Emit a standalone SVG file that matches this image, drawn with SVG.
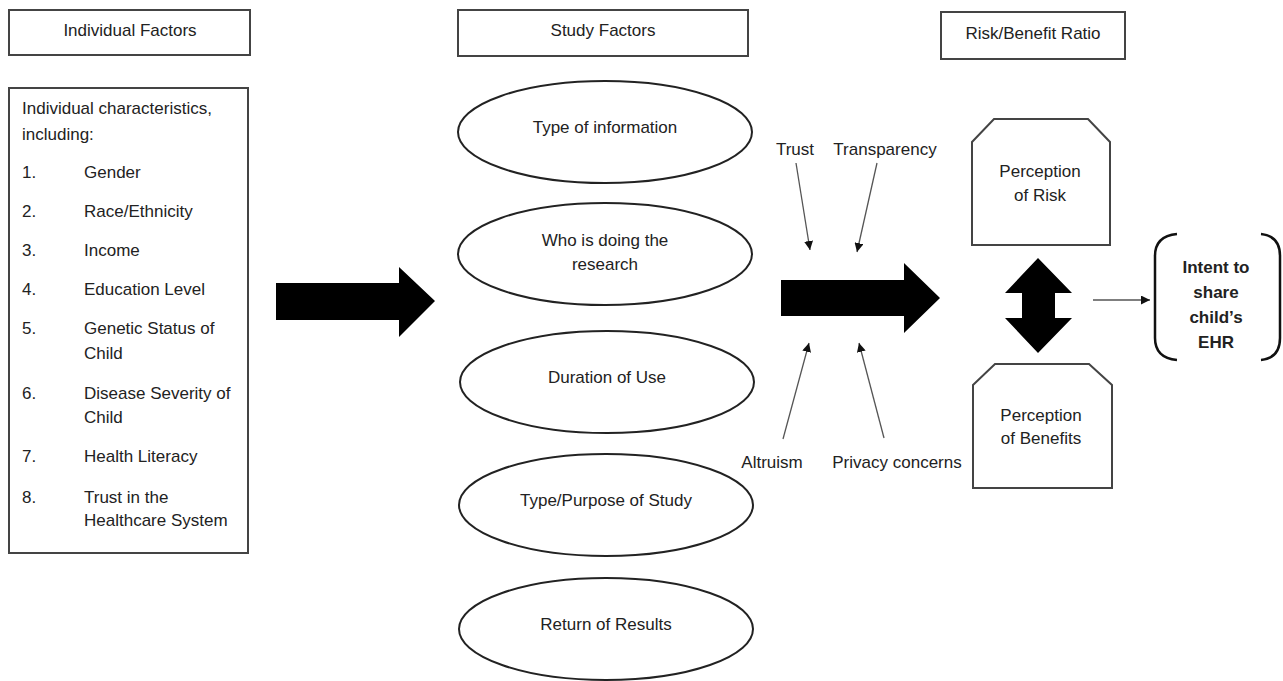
<svg xmlns="http://www.w3.org/2000/svg" width="1283" height="681" viewBox="0 0 1283 681">
<defs>
<style>
text{font-family:"Liberation Sans",Arial,sans-serif;font-size:17px;fill:#222}
.c{text-anchor:middle}
.b{font-weight:bold}
.box{fill:#fff;stroke:#444;stroke-width:2}
.ell{fill:#fff;stroke:#222;stroke-width:2}
.blk{fill:#000}
.thin{fill:none;stroke:#555;stroke-width:1.3}
.brk{fill:none;stroke:#111;stroke-width:2.5}
</style>
<marker id="ah" viewBox="0 0 10 10" refX="10" refY="5" markerWidth="9" markerHeight="9" markerUnits="userSpaceOnUse" orient="auto">
<path d="M0,0 L10,5 L0,10 z" fill="#111"/>
</marker>
</defs>
<rect width="1283" height="681" fill="#fff"/>

<g id="connectors">
<polygon class="blk" points="276,283 399,283 399,267 435,301 399,337 399,320 276,320"/>
<polygon class="blk" points="781,280 904,280 904,263 940,298 904,333 904,316 781,316"/>
<polygon class="blk" points="1038,258 1072,293 1055,293 1055,318 1072,318 1038,353 1005,318 1022,318 1022,293 1005,293"/>
<line class="thin" x1="796" y1="163" x2="810" y2="250" marker-end="url(#ah)"/>
<line class="thin" x1="877" y1="163" x2="857" y2="252" marker-end="url(#ah)"/>
<line class="thin" x1="783" y1="439" x2="809" y2="343" marker-end="url(#ah)"/>
<line class="thin" x1="884" y1="438" x2="859" y2="343" marker-end="url(#ah)"/>
<line class="thin" x1="1093" y1="300" x2="1150" y2="300" marker-end="url(#ah)"/>
</g>

<g id="individual-factors">
<rect class="box" x="9" y="10" width="241" height="45"/>
<text class="c" x="130" y="36">Individual Factors</text>
</g>

<g id="individual-characteristics">
<rect class="box" x="9" y="88" width="239" height="465"/>
<text x="22" y="114">Individual characteristics,</text>
<text x="22" y="140">including:</text>
<text x="22" y="178">1.</text><text x="84" y="178">Gender</text>
<text x="22" y="217">2.</text><text x="84" y="217">Race/Ethnicity</text>
<text x="22" y="256">3.</text><text x="84" y="256">Income</text>
<text x="22" y="295">4.</text><text x="84" y="295">Education Level</text>
<text x="22" y="334">5.</text><text x="84" y="334">Genetic Status of</text>
<text x="84" y="359">Child</text>
<text x="22" y="399">6.</text><text x="84" y="399">Disease Severity of</text>
<text x="84" y="423">Child</text>
<text x="22" y="462">7.</text><text x="84" y="462">Health Literacy</text>
<text x="22" y="503">8.</text><text x="84" y="503">Trust in the</text>
<text x="84" y="526">Healthcare System</text>
</g>

<g id="study-factors">
<rect class="box" x="458" y="10" width="290" height="46"/>
<text class="c" x="603" y="36">Study Factors</text>
</g>

<g id="type-of-information">
<ellipse class="ell" cx="605" cy="132" rx="147" ry="51"/>
<text class="c" x="605" y="133">Type of information</text>
</g>
<g id="who-is-doing">
<ellipse class="ell" cx="605" cy="254" rx="147" ry="51"/>
<text class="c" x="605" y="246">Who is doing the</text>
<text class="c" x="605" y="270">research</text>
</g>
<g id="duration-of-use">
<ellipse class="ell" cx="607" cy="382" rx="147" ry="51"/>
<text class="c" x="607" y="383">Duration of Use</text>
</g>
<g id="type-purpose">
<ellipse class="ell" cx="606" cy="505" rx="147" ry="51"/>
<text class="c" x="606" y="506">Type/Purpose of Study</text>
</g>
<g id="return-of-results">
<ellipse class="ell" cx="606" cy="629" rx="147" ry="51"/>
<text class="c" x="606" y="630">Return of Results</text>
</g>

<g id="trust"><text class="c" x="795" y="155">Trust</text></g>
<g id="transparency"><text class="c" x="885" y="155">Transparency</text></g>
<g id="altruism"><text class="c" x="772" y="468">Altruism</text></g>
<g id="privacy"><text class="c" x="897" y="468">Privacy concerns</text></g>

<g id="risk-benefit-ratio">
<rect class="box" x="941" y="12" width="184" height="47"/>
<text class="c" x="1033" y="39">Risk/Benefit Ratio</text>
</g>

<g id="perception-of-risk">
<polygon class="box" points="972,142 994,119 1088,119 1110,142 1110,245 972,245"/>
<text class="c" x="1040" y="177">Perception</text>
<text class="c" x="1040" y="201">of Risk</text>
</g>

<g id="perception-of-benefits">
<polygon class="box" points="973,385 995,364 1089,364 1112,385 1112,488 973,488"/>
<text class="c" x="1041" y="421">Perception</text>
<text class="c" x="1041" y="444">of Benefits</text>
</g>

<g id="intent">
<path class="brk" d="M1177,234 Q1155,236 1155,256 L1155,338 Q1155,358 1177,360"/>
<path class="brk" d="M1261,234 Q1280,236 1280,256 L1280,338 Q1280,358 1261,360"/>
<text class="c b" x="1216" y="273">Intent to</text>
<text class="c b" x="1216" y="298">share</text>
<text class="c b" x="1216" y="323">child’s</text>
<text class="c b" x="1216" y="348">EHR</text>
</g>
</svg>
